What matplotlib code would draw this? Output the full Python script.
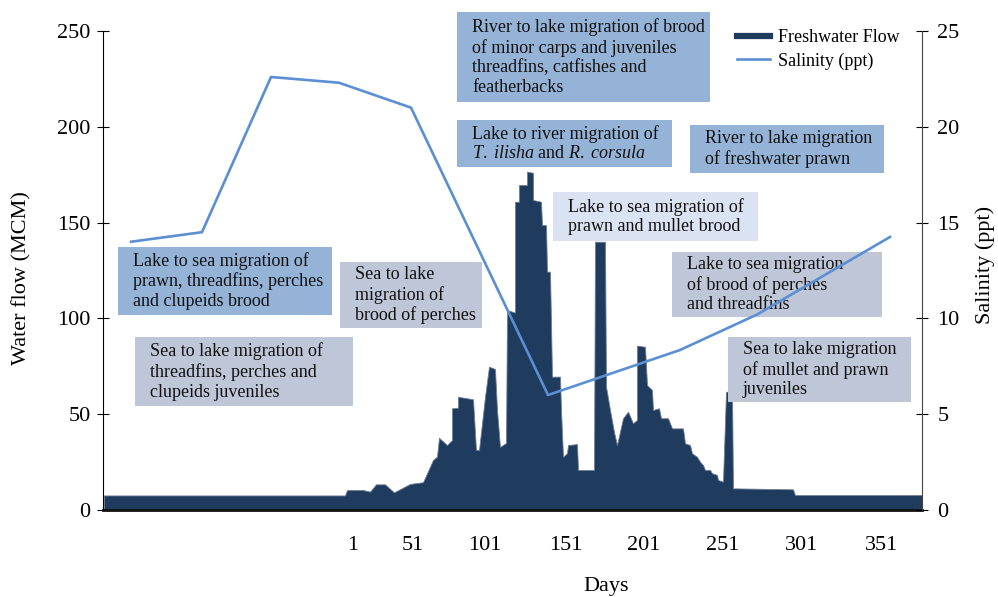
import matplotlib
matplotlib.use("Agg")
import matplotlib.pyplot as plt
from matplotlib.patches import Rectangle
from matplotlib.lines import Line2D

matplotlib.rcParams["font.family"] = "Liberation Serif"
matplotlib.rcParams["mathtext.fontset"] = "custom"
matplotlib.rcParams["mathtext.rm"] = "Liberation Serif"
matplotlib.rcParams["mathtext.it"] = "Liberation Serif:italic"

# horizontal position along the chart (axis units), flow in MCM
flow_pos = [104, 345, 347, 363, 370, 376, 385, 394, 410, 423, 433, 437, 439, 447, 452, 452,
            458, 458, 473, 476, 479, 485, 489, 495, 497, 500, 506, 507, 515, 515, 519, 519,
            527, 527, 533, 533, 541, 542, 546, 547, 550, 552, 560, 561, 563, 567, 568, 577,
            578, 594, 595, 605, 606, 610, 614, 617, 623, 628, 633, 637, 637, 645, 647, 652,
            653, 659, 661, 668, 672, 683, 685, 690, 692, 697, 700, 703, 705, 710, 712, 717,
            718, 723, 726, 732, 733, 793, 795, 922]
flow = [7.6, 7.6, 10.4, 10.4, 9.6, 13.4, 13.4, 9.2, 13.6, 14.5, 26.1, 27.8, 37.7, 33.9, 36.5, 53.1,
        53.4, 59.1, 57.8, 31.3, 31.3, 59.1, 74.8, 73.6, 52.2, 32.9, 35.0, 104.4, 103.0, 160.9, 160.9, 169.6,
        169.6, 176.6, 176.0, 161.8, 160.9, 148.7, 148.7, 124.4, 124.4, 69.6, 69.6, 52.2, 27.8, 29.6, 33.9, 34.4,
        20.9, 20.9, 140.0, 140.0, 64.4, 52.2, 40.7, 33.9, 47.9, 51.3, 45.3, 47.0, 85.8, 85.2, 65.2, 62.6,
        52.2, 53.1, 47.9, 47.9, 42.6, 42.6, 34.8, 33.9, 29.6, 27.8, 25.2, 23.5, 20.9, 20.9, 19.2, 18.3,
        15.7, 14.8, 61.7, 61.7, 11.3, 10.8, 7.8, 7.8]

sal_pos = [131, 202, 271, 339, 411, 548, 680, 757, 890]
salinity = [14.0, 14.5, 22.6, 22.3, 21.0, 6.0, 8.35, 10.2, 14.25]

day_pos = [353, 413, 485, 566, 644, 723, 802, 882]
day_labels = ["1", "51", "101", "151", "201", "251", "301", "351"]

# (left, top, right, bottom) in pixels, fill colour, text
notes = [
    ((457, 12, 710, 102), "#95b3d7",
     "River to lake migration of brood\nof minor carps and juveniles\nthreadfins, catfishes and\nfeatherbacks"),
    ((457, 120, 672, 167), "#95b3d7",
     "Lake to river migration of\n$\\mathit{T.\\ ilisha}$ and $\\mathit{R.\\ corsula}$"),
    ((690, 125, 884, 173), "#95b3d7", "River to lake migration\nof freshwater prawn"),
    ((553, 192, 758, 241), "#dbe2f2", "Lake to sea migration of\nprawn and mullet brood"),
    ((118, 247, 332, 315), "#95b3d7",
     "Lake to sea migration of\nprawn, threadfins, perches\nand clupeids brood"),
    ((340, 262, 482, 328), "#bec6d8", "Sea to lake\nmigration of\nbrood of perches"),
    ((135, 337, 353, 406), "#bec6d8",
     "Sea to lake migration of\nthreadfins, perches and\nclupeids juveniles"),
    ((672, 252, 882, 317), "#bec6d8", "Lake to sea migration\nof brood of perches\nand threadfins"),
    ((728, 337, 911, 402), "#bec6d8", "Sea to lake migration\nof mullet and prawn\njuveniles"),
]

W, H = 998, 597
navy = "#1f3b5e"
line_col = "#5b8fd2"

fig = plt.figure(figsize=(W / 100, H / 100), dpi=100)
ax = fig.add_axes([103 / W, 1 - 510 / H, (922 - 103) / W, (510 - 31) / H])
ax.fill_between(flow_pos, flow, color=navy, lw=0.6, edgecolor="#6d7f96")
ax.set_xlim(103, 922)
ax.set_ylim(0, 250)
ax.set_yticks(range(0, 251, 50))
ax.set_xticks(day_pos)
ax.set_xticklabels(day_labels)
ax.tick_params(axis="x", length=0, pad=19, labelsize=16)
ax.tick_params(axis="y", direction="inout", length=8, pad=5, labelsize=16)
ax.spines["top"].set_visible(False)
ax.spines["right"].set_visible(False)
ax.spines["bottom"].set_linewidth(2)
ax.spines["bottom"].set_color("#111111")

ax2 = ax.twinx()
ax2.set_ylim(0, 25)
ax2.set_yticks(range(0, 26, 5))
ax2.tick_params(axis="y", direction="inout", length=8, pad=7, labelsize=16)
for s in ["top", "left", "bottom"]:
    ax2.spines[s].set_visible(False)
ax2.spines["right"].set_color("#444444")
ax2.plot(sal_pos, salinity, color=line_col, lw=1.9, zorder=5)

for (x0, y0, x1, y1), col, txt in notes:
    ax2.add_patch(Rectangle((x0 / W, 1 - y1 / H), (x1 - x0) / W, (y1 - y0) / H,
                            transform=fig.transFigure, facecolor=col, edgecolor="none",
                            clip_on=False, zorder=1))
    ax2.text((x0 + 15) / W, 1 - (y0 + y1) / 2 / H, txt, transform=fig.transFigure,
             ha="left", va="center", fontsize=13, linespacing=1.2, color="#111111", zorder=2)

handles = [Line2D([], [], color=navy, lw=4.5), Line2D([], [], color=line_col, lw=1.9)]
ax2.legend(handles, ["Freshwater Flow", "Salinity (ppt)"], loc="upper left",
           bbox_to_anchor=(730 / W, 1 - 22 / H), bbox_transform=fig.transFigure,
           frameon=False, fontsize=13, handlelength=1.8, handletextpad=0.45,
           labelspacing=0.35, borderaxespad=0)

fig.text(22 / W, 1 - 278 / H, "Water flow (MCM)", rotation=90, ha="center", va="center", fontsize=16)
fig.text(985 / W, 1 - 265 / H, "Salinity (ppt)", rotation=90, ha="center", va="center", fontsize=16)
fig.text(606 / W, 1 - 586 / H, "Days", ha="center", va="center", fontsize=16)

fig.savefig("out.png", dpi=100)
